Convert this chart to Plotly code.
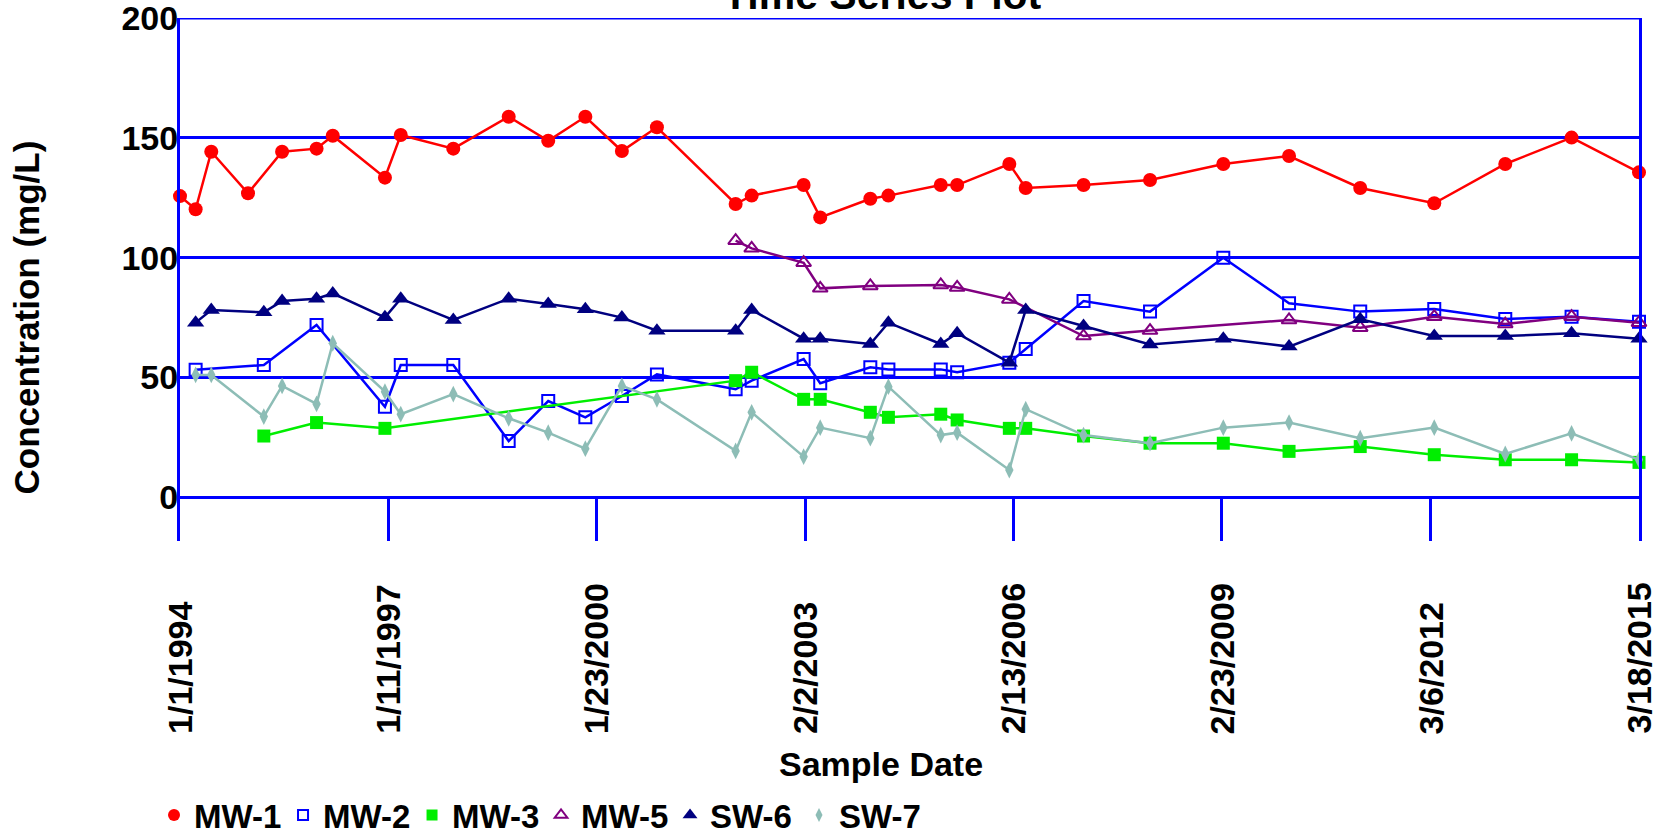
import plotly.graph_objects as go

# ---------------- data ----------------
tick_dates = ["1994-01-01", "1997-01-11", "2000-01-23", "2003-02-02",
              "2006-02-13", "2009-02-23", "2012-03-06", "2015-03-18"]
tick_labels = ["1/1/1994", "1/11/1997", "1/23/2000", "2/2/2003",
               "2/13/2006", "2/23/2009", "3/6/2012", "3/18/2015"]
y_ticks = [0, 50, 100, 150, 200]

mw1_dates = ["1994-01-01", "1994-03-25", "1994-06-16", "1994-12-28", "1995-06-27", "1995-12-27",
             "1996-03-22", "1996-12-24", "1997-03-18", "1997-12-22", "1998-10-12", "1999-05-10",
             "1999-11-23", "2000-06-04", "2000-12-07", "2002-01-29", "2002-04-24", "2003-01-25",
             "2003-04-23", "2004-01-14", "2004-04-19", "2005-01-22", "2005-04-19", "2006-01-21",
             "2006-04-18", "2007-02-19", "2008-02-07", "2009-03-02", "2010-02-14", "2011-02-27",
             "2012-03-26", "2013-04-07", "2014-03-25", "2015-03-18"]
mw1_vals = [125.7, 120.2, 144.2, 126.9, 144.2, 145.5, 150.9, 133.4, 151.2, 145.5, 158.8, 148.8,
            158.8, 144.5, 154.4, 122.4, 125.9, 130.3, 116.8, 124.6, 125.9, 130.3, 130.3, 139.1,
            129.1, 130.3, 132.4, 139.1, 142.4, 129.1, 122.7, 139.1, 150.1, 135.6]

mw2_dates = ["1994-03-25", "1995-03-22", "1995-12-27", "1996-12-24", "1997-03-18", "1997-12-22",
             "1998-10-12", "1999-05-10", "1999-11-23", "2000-06-04", "2000-12-07", "2002-01-29",
             "2002-04-24", "2003-01-25", "2003-04-23", "2004-01-14", "2004-04-19", "2005-01-22",
             "2005-04-19", "2006-01-21", "2006-04-18", "2007-02-19", "2008-02-07", "2009-03-02",
             "2010-02-14", "2011-02-27", "2012-03-26", "2013-04-07", "2014-03-25", "2015-03-18"]
mw2_vals = [53.2, 55.2, 71.9, 37.8, 55.2, 55.2, 23.5, 40.2, 33.4, 42.3, 51.3, 45.1,
            48.7, 57.7, 47.6, 54.3, 53.4, 53.4, 52.2, 56.2, 61.9, 81.9, 77.5, 100.0,
            81.0, 77.5, 78.6, 74.4, 75.4, 73.3]

mw3_dates = ["1995-03-22", "1995-12-27", "1996-12-24", "2002-01-29", "2002-04-24", "2003-01-25",
             "2003-04-23", "2004-01-14", "2004-04-19", "2005-01-22", "2005-04-19", "2006-01-21",
             "2006-04-18", "2007-02-19", "2008-02-07", "2009-03-02", "2010-02-14", "2011-02-27",
             "2012-03-26", "2013-04-07", "2014-03-25", "2015-03-18"]
mw3_vals = [25.6, 31.2, 28.8, 48.7, 52.2, 40.9, 40.9, 35.5, 33.4, 34.7, 32.3, 28.8,
            28.8, 25.6, 22.6, 22.6, 19.2, 21.2, 17.8, 15.7, 15.7, 14.6]

mw5_dates = ["2002-01-29", "2002-04-24", "2003-01-25", "2003-04-23", "2004-01-14", "2005-01-22",
             "2005-04-19", "2006-01-21", "2007-02-19", "2008-02-07", "2010-02-14", "2011-02-27",
             "2012-03-26", "2013-04-07", "2014-03-25", "2015-03-18"]
mw5_vals = [107.1, 103.9, 97.9, 87.2, 88.2, 88.6, 87.6, 82.6, 67.3, 69.6, 74.0, 70.8,
            75.4, 72.3, 75.4, 72.9]

sw_dates = ["1994-03-25", "1994-06-16", "1995-03-22", "1995-06-27", "1995-12-27", "1996-03-22",
            "1996-12-24", "1997-03-18", "1997-12-22", "1998-10-12", "1999-05-10", "1999-11-23",
            "2000-06-04", "2000-12-07", "2002-01-29", "2002-04-24", "2003-01-25", "2003-04-23",
            "2004-01-14", "2004-04-19", "2005-01-22", "2005-04-19", "2006-01-21", "2006-04-18",
            "2007-02-19", "2008-02-07", "2009-03-02", "2010-02-14", "2011-02-27", "2012-03-26",
            "2013-04-07", "2014-03-25", "2015-03-18"]
sw6_vals = [72.9, 78.2, 77.2, 81.9, 82.9, 85.1, 75.1, 82.9, 74.0, 82.9, 80.7, 78.5,
            75.0, 69.5, 69.5, 78.2, 66.2, 66.2, 64.0, 72.9, 64.0, 68.5, 56.2, 78.2,
            71.5, 63.8, 66.2, 62.9, 74.3, 67.3, 67.3, 68.5, 66.2]
sw7_vals = [51.1, 51.1, 33.7, 46.5, 39.0, 64.3, 44.1, 34.7, 43.1, 33.0, 27.0, 20.3,
            46.5, 40.9, 19.4, 35.5, 17.0, 29.1, 24.7, 46.2, 26.0, 27.0, 11.4, 36.8,
            26.0, 22.6, 29.1, 31.2, 24.7, 29.1, 18.1, 26.7, 15.7]

# ---------------- styles ----------------
FONT = "Liberation Sans, Arial, sans-serif"
BLUE = "#0000ff"
series = [
    ("MW-1", mw1_dates, mw1_vals, "#ff0000", "circle", 14, 0),
    ("MW-2", mw2_dates, mw2_vals, "#0000ff", "square-open", 12, 2),
    ("MW-3", mw3_dates, mw3_vals, "#00ee00", "square", 13, 0),
    ("MW-5", mw5_dates, mw5_vals, "#800080", "triangle-up-open", 13, 2),
    ("SW-6", sw_dates, sw6_vals, "#000080", "triangle-up", 15, 0),
    ("SW-7", sw_dates, sw7_vals, "#8dbdb6", "diamond-tall", 12, 0),
]

fig = go.Figure()
for name, xs, ys, col, sym, size, lw in series:
    fig.add_trace(go.Scatter(
        x=xs, y=ys, mode="lines+markers", name=name, showlegend=False,
        line=dict(color=col, width=2.5),
        marker=dict(symbol=sym, size=size, color=col, line=dict(color=col, width=lw)),
        cliponaxis=False))
# legend-only entries (markers without line)
for name, xs, ys, col, sym, size, lw in series:
    fig.add_trace(go.Scatter(
        x=[None], y=[None], mode="markers", name=name, showlegend=True,
        marker=dict(symbol=sym, size=size - 2, color=col, line=dict(color=col, width=lw))))

annotations = []
for d, lab in zip(tick_dates, tick_labels):
    annotations.append(dict(x=d, xref="x", y=-0.3728, yref="paper", yanchor="bottom",
                            xanchor="center", text=lab, textangle=-90, showarrow=False,
                            font=dict(family=FONT, size=34, color="black", weight="bold")))
annotations.append(dict(x=0.4817, xref="paper", y=1.0, yref="paper", yanchor="bottom",
                        yshift=-2, xanchor="center", text="Time Series Plot", showarrow=False,
                        font=dict(family=FONT, size=41, color="black", weight="bold")))
annotations.append(dict(x=0.4805, xref="paper", y=-0.4264, yref="paper", yanchor="middle",
                        xanchor="center", text="Sample Date", showarrow=False,
                        font=dict(family=FONT, size=34, color="black", weight="bold")))
annotations.append(dict(x=-0.1055, xref="paper", y=0.4275, yref="paper", yanchor="middle",
                        xanchor="center", text="Concentration (mg/L)", textangle=-90,
                        showarrow=False,
                        font=dict(family=FONT, size=35, color="black", weight="bold")))

fig.update_layout(
    width=1663, height=835,
    margin=dict(l=180, r=24, t=18, b=294, autoexpand=False),
    plot_bgcolor="white", paper_bgcolor="white",
    annotations=annotations,
    shapes=[dict(type="line", xref="paper", x0=0, x1=1, yref="y", y0=200, y1=200,
                 line=dict(color=BLUE, width=3), layer="below")],
    legend=dict(orientation="h", x=-0.0178, xanchor="left", y=-0.524, yanchor="middle",
                font=dict(family=FONT, size=33, color="black", weight="bold"),
                itemwidth=30, entrywidth=84, entrywidthmode="pixels",
                bgcolor="rgba(0,0,0,0)"),
    xaxis=dict(type="date", range=["1994-01-01", "2015-03-18"], tickvals=tick_dates,
               showticklabels=False, ticks="inside", ticklen=44, tickwidth=2.5,
               tickcolor=BLUE, showgrid=False, showline=False, zeroline=False),
    yaxis=dict(range=[-18.2, 200], tickvals=y_ticks, showgrid=True, gridcolor=BLUE,
               gridwidth=3, showline=True, mirror=True, linecolor=BLUE, linewidth=3,
               zeroline=False, ticks="", ticklabelstandoff=-8, ticklabeloverflow="allow",
               tickfont=dict(family=FONT, size=34, color="black", weight="bold")),
)
fig.write_html("out.html", config={"displayModeBar": False},
               post_script="document.body.style.margin='0';")
